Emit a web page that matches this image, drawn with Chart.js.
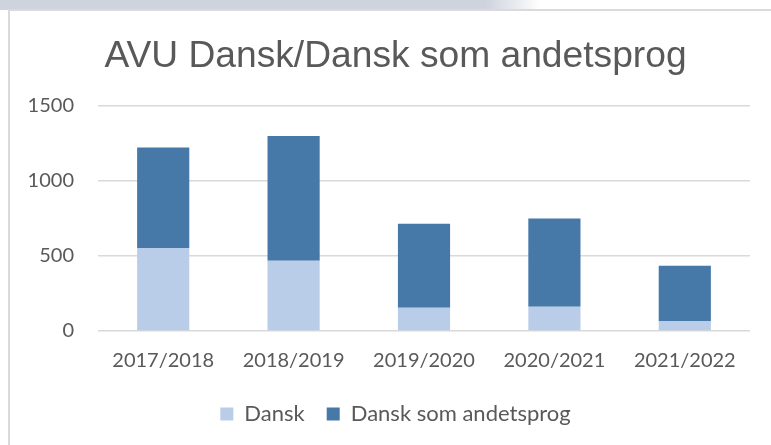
<!DOCTYPE html>
<html>
<head>
<meta charset="utf-8">
<script src="https://cdn.jsdelivr.net/npm/chart.js@4/dist/chart.umd.min.js"></script>
<style>
  html, body { margin: 0; padding: 0; background: #fff; }
  #wrap { position: relative; width: 771px; height: 445px; overflow: hidden; }
  #band { position: absolute; left: 0; top: 0; width: 771px; height: 10px;
          background: linear-gradient(to right, #cfd3de 0%, #cfd3de 63%, #e9ebf0 67%, #fff 70%); }
  #panel { position: absolute; left: 8px; top: 9px; width: 763px; height: 436px;
           border-left: 2px solid #dadada; border-top: 2px solid #dadada; background: #fff; }
  #chart { position: absolute; left: 0; top: 0; }
</style>
</head>
<body>
<div id="wrap">
  <div id="band"></div>
  <div id="panel"></div>
  <canvas id="chart" width="771" height="445"></canvas>
</div>
<script>
// data
const categories = ['2017/2018', '2018/2019', '2019/2020', '2020/2021', '2021/2022'];
const dansk      = [553, 468, 154, 161, 67];
const andet      = [669, 830, 560, 588, 368];
const yTicks     = [0, 500, 1000, 1500];

const textGrey = '#595959';
const tickFont = { family: 'Lato, "Open Sans", sans-serif', size: 20 };
const legendFont = { family: 'Lato, "Open Sans", sans-serif', size: 22 };

// the y labels sit left of the padded area, so widen the label clip box
const yLabelRoom = {
  id: 'yLabelRoom',
  afterLayout(chart) { chart.scales.y.left = 0; },
};

new Chart(document.getElementById('chart').getContext('2d'), {
  type: 'bar',
  data: {
    labels: categories,
    datasets: [
      { label: 'Dansk', data: dansk, backgroundColor: '#b9cde8' },
      { label: 'Dansk som andetsprog', data: andet, backgroundColor: '#4678a8' },
    ],
  },
  plugins: [yLabelRoom],
  options: {
    responsive: false, animation: false,
    layout: { padding: { left: 41, right: 21, top: 10, bottom: 10 } },
    datasets: { bar: { barPercentage: 0.4, categoryPercentage: 1 } },
    plugins: {
      title: {
        display: true, text: 'AVU Dansk/Dansk som andetsprog', color: textGrey,
        font: { family: '"Liberation Sans", Arial, sans-serif', size: 37.2, weight: 'normal' },
        padding: { top: 24, bottom: 27 },
      },
      legend: {
        position: 'bottom',
        labels: { color: textGrey, font: legendFont, boxWidth: 13, boxHeight: 13, padding: 22 },
      },
      tooltip: { enabled: false },
    },
    scales: {
      x: {
        stacked: true,
        afterFit: s => { s.height = 50; },
        grid: { display: false, drawTicks: false },
        border: { display: false },
        ticks: { color: textGrey, font: tickFont, maxRotation: 0, autoSkip: false, padding: 18 },
      },
      y: {
        stacked: true, min: 0, max: 1500,
        afterFit: s => { s.width = 57; },
        afterBuildTicks: s => { s.ticks = yTicks.map(v => ({ value: v })); },
        grid: { color: '#d9d9d9', lineWidth: 1.5, drawTicks: false },
        border: { display: false },
        ticks: { color: textGrey, font: tickFont, padding: 24, callback: v => String(v) },
      },
    },
  },
});
</script>
</body>
</html>
